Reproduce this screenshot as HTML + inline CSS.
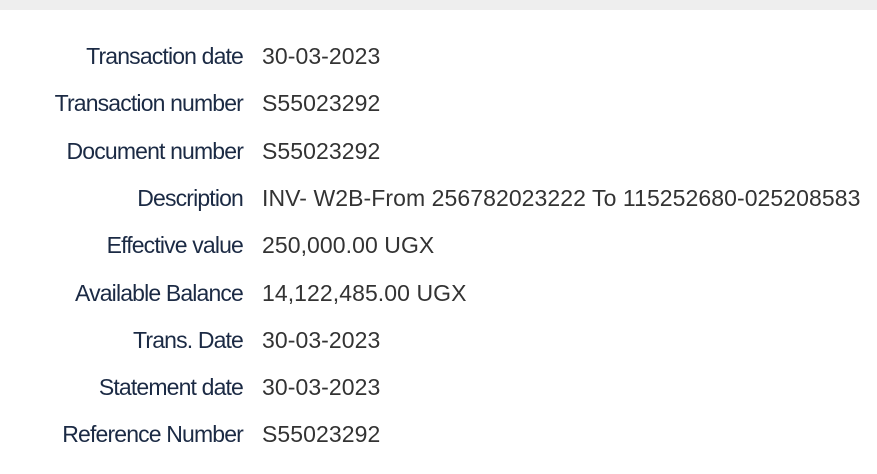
<!DOCTYPE html>
<html><head><meta charset="utf-8"><style>
body{margin:0;width:877px;height:474px;background:#fff;overflow:hidden;font-family:"Liberation Sans",sans-serif;position:relative}
.top{position:absolute;left:0;top:0;width:877px;height:10px;background:#eeeeee}
.row{position:absolute;left:0;height:47px;line-height:47px;font-size:23px;white-space:nowrap}
.lab{position:absolute;right:634px;color:#1b2a44;letter-spacing:-0.85px}
.val{position:absolute;left:262px;color:#333;letter-spacing:0.07px}
</style></head><body>
<div class="top"></div>
<div id="rows"></div>
<script>
const labels=["Transaction date","Transaction number","Document number","Description","Effective value","Available Balance","Trans. Date","Statement date","Reference Number"];
const values=["30-03-2023","S55023292","S55023292","INV- W2B-From 256782023222 To 115252680-025208583","250,000.00 UGX","14,122,485.00 UGX","30-03-2023","30-03-2023","S55023292"];
const c=document.getElementById('rows');
labels.forEach((l,i)=>{
 const r=document.createElement('div');r.className='row';r.style.top=(33+i*47.3)+'px';r.style.width='877px';
 
 
 const a=document.createElement('span');a.className='lab';a.textContent=l;
 
 
 const b=document.createElement('span');b.className='val';b.textContent=values[i];
 
 
 r.appendChild(a);r.appendChild(b);c.appendChild(r);
});
</script>
</body></html>
